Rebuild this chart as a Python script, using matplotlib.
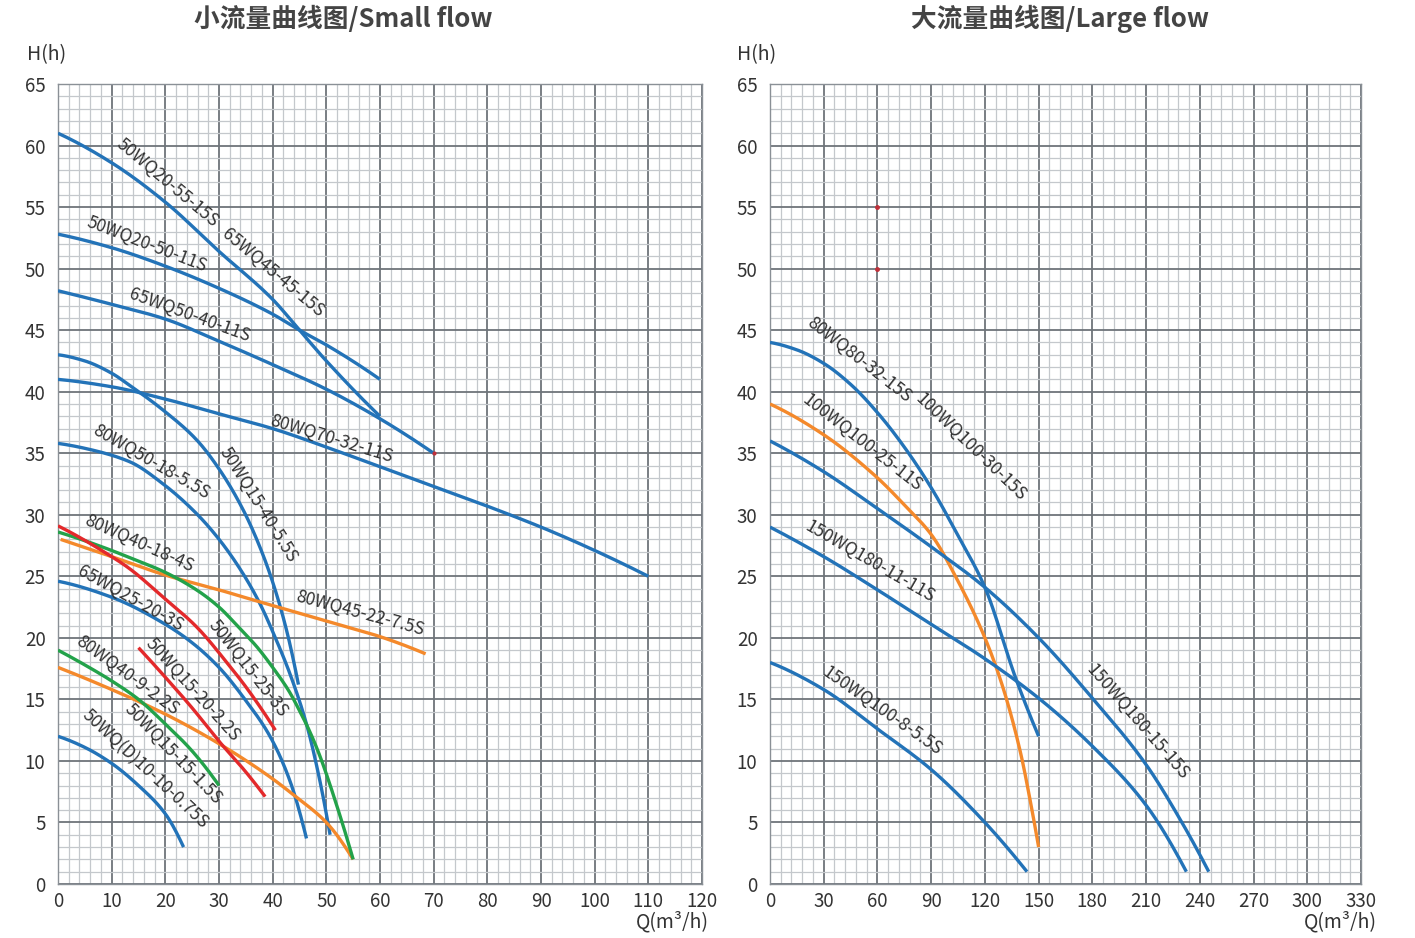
import matplotlib
matplotlib.use("Agg")
import matplotlib.pyplot as plt
from matplotlib.ticker import MultipleLocator
import numpy as np

plt.rcParams['font.family'] = ['Noto Sans CJK SC', 'DejaVu Sans']

BLUE = '#2373b8'
ORANGE = '#f4892b'
GREEN = '#23a24a'
RED = '#e3292b'

# ---------------- Small flow data ----------------
s1_q = [0, 10, 20, 30, 40, 45, 50, 60]
s1_h = [61, 58.6, 55.4, 51.4, 47.5, 45, 42.5, 38]
s2_q = [0, 10, 20, 30, 40, 45, 50, 60]
s2_h = [52.8, 51.7, 50.2, 48.4, 46.3, 45, 43.8, 41]
s3_q = [0, 10, 20, 30, 40, 50, 60, 70]
s3_h = [48.2, 47.1, 45.9, 44.1, 42.2, 40.2, 37.8, 35]
s4_q = [0, 10, 20, 30, 40, 50, 60, 70, 80, 90, 100, 110]
s4_h = [41, 40.4, 39.4, 38.2, 37.0, 35.5, 33.9, 32.3, 30.7, 29.0, 27.1, 25]
s5_q = [0, 5, 10, 13.4, 19.6, 25.8, 30.2, 34.5, 37.6, 40.1, 42.6, 44.8]
s5_h = [43, 42.5, 41.5, 40.5, 38.5, 36.1, 33.6, 30.4, 27.4, 24.4, 20.6, 16.2]
s6_q = [0, 6, 13.4, 19.6, 25.8, 30.2, 34.5, 37.6, 40.7, 43.2, 46.3, 48.5, 50.7]
s6_h = [35.8, 35.3, 34.3, 32.5, 30.1, 27.9, 25.2, 22.8, 19.8, 17.1, 13.0, 9, 4]
s7_q = [0, 10, 20, 25, 30, 35, 39.5, 43.2, 46.3]
s7_h = [24.6, 23.3, 21.1, 19.6, 17.6, 14.9, 12.0, 8.4, 3.7]
s8_q = [0, 5, 10, 15, 20, 23.4]
s8_h = [12, 11.1, 9.8, 8.0, 5.7, 3]
o1_q = [0.5, 10, 20, 30, 37, 45, 51.3, 60, 68.5]
o1_h = [28, 26.6, 25.1, 23.9, 23.0, 22.0, 21.2, 20.1, 18.7]
o2_q = [0, 10, 20, 30, 39.5, 44, 50, 55]
o2_h = [17.6, 15.8, 13.8, 11.4, 8.7, 7.2, 5.0, 2]
g1_q = [0, 10, 13.4, 19.6, 25.8, 30, 34, 37, 40, 43, 45.1, 47, 48.8, 52, 55]
g1_h = [28.6, 27.1, 26.5, 25.4, 23.9, 22.5, 20.7, 19.3, 17.6, 15.7, 14.0, 12.3, 10.4, 6.3, 2]
g2_q = [0, 5, 10, 15, 20, 25, 30]
g2_h = [19, 17.8, 16.5, 15.0, 13.0, 10.8, 8]
r1_q = [0, 10, 13.4, 19.6, 25.8, 32, 35.2, 40.5]
r1_h = [29.1, 26.6, 25.6, 23.3, 20.9, 17.7, 15.9, 12.5]
r2_q = [15, 20, 25, 30, 35, 38.6]
r2_h = [19.2, 16.8, 14.3, 11.6, 9.1, 7.1]

small_series = [
    (s1_q, s1_h, BLUE), (s2_q, s2_h, BLUE), (s3_q, s3_h, BLUE), (s4_q, s4_h, BLUE),
    (s5_q, s5_h, BLUE), (s6_q, s6_h, BLUE), (s7_q, s7_h, BLUE), (s8_q, s8_h, BLUE),
    (o1_q, o1_h, ORANGE), (o2_q, o2_h, ORANGE), (g1_q, g1_h, GREEN), (g2_q, g2_h, GREEN),
    (r1_q, r1_h, RED), (r2_q, r2_h, RED),
]

small_labels = ["50WQ20-55-15S", "65WQ45-45-15S", "50WQ20-50-11S", "65WQ50-40-11S",
                "80WQ70-32-11S", "80WQ50-18-5.5S", "50WQ15-40-5.5S", "80WQ40-18-4S",
                "65WQ25-20-3S", "80WQ45-22-7.5S", "50WQ15-25-3S", "80WQ40-9-2.2S",
                "50WQ15-20-2.2S", "50WQ15-15-1.5S", "50WQ(D)10-10-0.75S"]
small_lab_q = [20.5, 40.0, 16.6, 24.6, 51, 17.5, 37.3, 15.1, 13.6, 56.3, 35.4, 13, 25.1, 21.4, 16.2]
small_lab_h = [57.0, 49.7, 52, 46.2, 36.2, 34.3, 30.8, 27.7, 23.2, 22.0, 17.5, 17, 15.8, 10.6, 9.3]
small_lab_rot = [-40, -40, -21, -20, -17, -30, -58, -24, -29, -15, -52, -36, -48, -46, -43]

# ---------------- Large flow data ----------------
L1_q = [0, 15, 30, 45, 60, 75, 90, 105, 120, 137, 150]
L1_h = [44, 43.4, 42.3, 40.6, 38.3, 35.5, 32.2, 28.3, 24.1, 16.8, 12]
L2_q = [0, 30, 60, 75, 90, 105, 120, 130, 140, 145, 150]
L2_h = [39, 36.5, 33.0, 30.8, 28.4, 24.6, 20.0, 16.0, 10.6, 7.0, 3]
L3_q = [0, 30, 60, 90, 120, 150, 180, 210, 230, 245]
L3_h = [36, 33.5, 30.5, 27.4, 24.1, 20.0, 15.1, 9.7, 5.0, 1]
L4_q = [0, 30, 60, 90, 120, 150, 180, 210, 232.5]
L4_h = [29, 26.6, 23.9, 21.1, 18.3, 15.1, 11.2, 6.4, 1]
L5_q = [0, 30, 60, 90, 120, 143.5]
L5_h = [18, 15.8, 12.6, 9.3, 5.0, 1]

large_series = [(L1_q, L1_h, BLUE), (L2_q, L2_h, ORANGE), (L3_q, L3_h, BLUE),
                (L4_q, L4_h, BLUE), (L5_q, L5_h, BLUE)]
large_labels = ["80WQ80-32-15S", "100WQ100-30-15S", "100WQ100-25-11S",
                "150WQ180-11-11S", "150WQ100-8-5.5S", "150WQ180-15-15S"]
large_lab_q = [49.7, 112.5, 51.4, 55.8, 62.5, 205.6]
large_lab_h = [42.6, 35.5, 35.9, 26.2, 14.1, 13.2]
large_lab_rot = [-38, -44, -38, -30, -35, -49]

dot_q = [60, 60]
dot_h = [55, 50]


def pchip_draw(x, y, n=30):
    """Monotone cubic rendering of a polyline through the read points."""
    x = np.asarray(x, float)
    y = np.asarray(y, float)
    h = np.diff(x)
    d = np.diff(y) / h
    m = np.zeros_like(x)
    for k in range(1, len(x) - 1):
        if d[k - 1] * d[k] > 0:
            w1 = 2 * h[k] + h[k - 1]
            w2 = h[k] + 2 * h[k - 1]
            m[k] = (w1 + w2) / (w1 / d[k - 1] + w2 / d[k])
    m[0] = ((2 * h[0] + h[1]) * d[0] - h[0] * d[1]) / (h[0] + h[1]) if len(x) > 2 else d[0]
    if m[0] * d[0] <= 0:
        m[0] = 0
    elif d[0] * d[1] <= 0 and abs(m[0]) > abs(3 * d[0]):
        m[0] = 3 * d[0]
    m[-1] = ((2 * h[-1] + h[-2]) * d[-1] - h[-1] * d[-2]) / (h[-1] + h[-2]) if len(x) > 2 else d[-1]
    if m[-1] * d[-1] <= 0:
        m[-1] = 0
    elif d[-1] * d[-2] <= 0 and abs(m[-1]) > abs(3 * d[-1]):
        m[-1] = 3 * d[-1]
    xs, ys = [], []
    for k in range(len(x) - 1):
        t = np.linspace(0, 1, n, endpoint=(k == len(x) - 2))
        h00 = 2 * t**3 - 3 * t**2 + 1
        h10 = t**3 - 2 * t**2 + t
        h01 = -2 * t**3 + 3 * t**2
        h11 = t**3 - t**2
        xs.append(x[k] + t * h[k])
        ys.append(h00 * y[k] + h10 * h[k] * m[k] + h01 * y[k + 1] + h11 * h[k] * m[k + 1])
    return np.concatenate(xs), np.concatenate(ys)


fig = plt.figure(figsize=(14.15, 9.38), dpi=100)
ax1 = fig.add_axes([58/1415, 54/938, 644/1415, 800/938])
ax2 = fig.add_axes([770/1415, 54/938, 591/1415, 800/938])


def style(ax, xmax, xmaj, xmin):
    ax.set_xlim(0, xmax)
    ax.set_ylim(0, 65)
    ax.xaxis.set_major_locator(MultipleLocator(xmaj))
    ax.xaxis.set_minor_locator(MultipleLocator(xmin))
    ax.yaxis.set_major_locator(MultipleLocator(5))
    ax.yaxis.set_minor_locator(MultipleLocator(1))
    ax.grid(which='minor', color='#c4c8cc', linewidth=0.9)
    ax.grid(which='major', color='#6e747a', linewidth=1.3)
    ax.set_axisbelow(True)
    for s in ax.spines.values():
        s.set_color('#8a9096')
        s.set_linewidth(1.0)
    ax.tick_params(which='both', length=0, labelsize=13.5, colors='#333333')
    ax.tick_params(axis='y', pad=9)
    ax.tick_params(axis='x', pad=5)


style(ax1, 120, 10, 2)
style(ax2, 330, 30, 6)

for q, h, c in small_series:
    xs, ys = pchip_draw(q, h)
    ax1.plot(xs, ys, color=c, linewidth=2.4, solid_capstyle='butt', zorder=3)
for q, h, c in large_series:
    xs, ys = pchip_draw(q, h)
    ax2.plot(xs, ys, color=c, linewidth=2.4, solid_capstyle='butt', zorder=3)

for t, q, h, r in zip(small_labels, small_lab_q, small_lab_h, small_lab_rot):
    ax1.text(q, h, t, rotation=r, rotation_mode='anchor', ha='center', va='center',
             fontsize=12.5, color='#333333', zorder=4)
for t, q, h, r in zip(large_labels, large_lab_q, large_lab_h, large_lab_rot):
    ax2.text(q, h, t, rotation=r, rotation_mode='anchor', ha='center', va='center',
             fontsize=12.5, color='#333333', zorder=4)

ax2.plot(dot_q, dot_h, 'o', color='#c0303a', markersize=2.5, zorder=4)
ax1.plot([70], [35], 'o', color='#c0303a', markersize=2, zorder=4)

fig.text(343/1415, 1 - 19/938, '小流量曲线图/Small flow', ha='center', va='center',
         fontsize=18.5, fontweight='bold', color='#444444')
fig.text(1060/1415, 1 - 19/938, '大流量曲线图/Large flow', ha='center', va='center',
         fontsize=18.5, fontweight='bold', color='#444444')
for xl in (27, 737):
    fig.text(xl/1415, 1 - 55/938, 'H(h)', ha='left', va='center', fontsize=14,
             color='#333333')
fig.text(672/1415, 1 - 922/938, 'Q(m³/h)', ha='center', va='center', fontsize=14,
         color='#333333')
fig.text(1340/1415, 1 - 922/938, 'Q(m³/h)', ha='center', va='center', fontsize=14,
         color='#333333')

fig.savefig('out.png', dpi=100, facecolor='white')
